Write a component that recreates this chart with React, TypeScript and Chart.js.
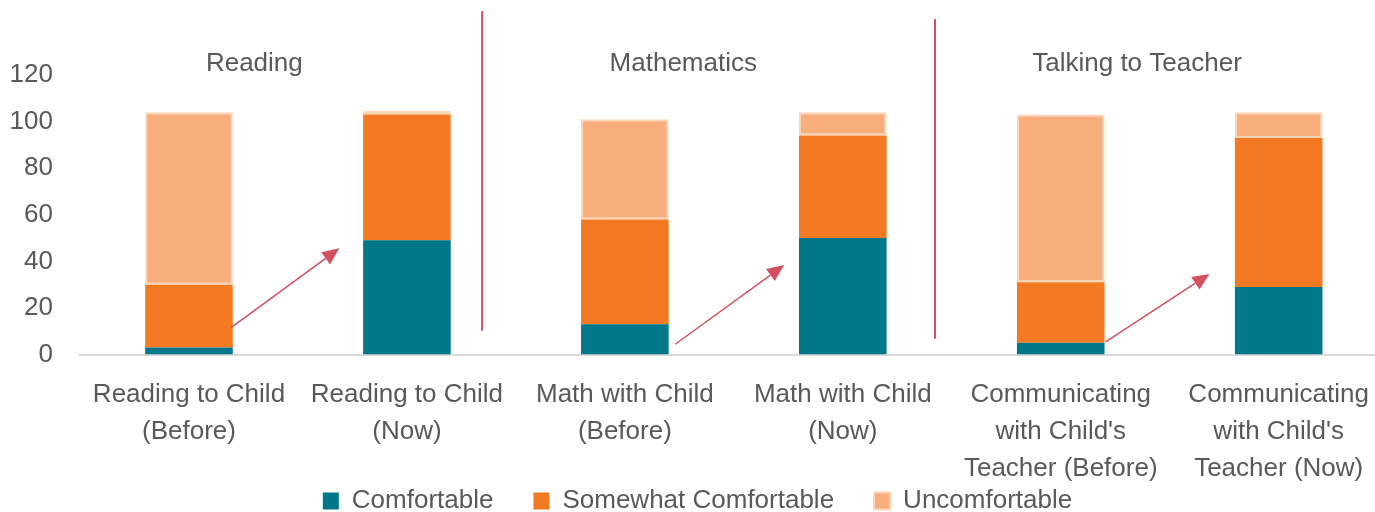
import React, { useEffect, useRef } from "react";
import { Chart, registerables } from "chart.js";

Chart.register(...registerables);

const categories: string[][] = [
  ["Reading to Child", "(Before)"],
  ["Reading to Child", "(Now)"],
  ["Math with Child", "(Before)"],
  ["Math with Child", "(Now)"],
  ["Communicating", "with Child's", "Teacher (Before)"],
  ["Communicating", "with Child's", "Teacher (Now)"],
];

const comfortable = [3, 49, 13, 50, 5, 29];
const somewhatComfortable = [27, 54, 45, 44, 26, 64];
const uncomfortable = [74, 1.5, 43, 10, 72, 11];

const yTicks = [0, 20, 40, 60, 80, 100, 120];

// Section titles: label, category position, value position
const sectionTitles = ["Reading", "Mathematics", "Talking to Teacher"];
const sectionTitleX = [0.3, 2.268, 4.35];
const sectionTitleY = 124.7;

// Divider lines: category position, value top, value bottom
const dividerX = [1.345, 3.423];
const dividerTop = [147.5, 144];
const dividerBottom = [10.2, 6.8];

// Arrows: start/end in (category position, value)
const arrowStartX = [0.193, 2.231, 4.206];
const arrowStartY = [11.5, 4.4, 5.4];
const arrowEndX = [0.69, 2.731, 4.683];
const arrowEndY = [45.6, 38.4, 34.6];

const TEXT = "#595959";
const RED = "#D4505F";
const FONT = "'Liberation Sans', Arial, sans-serif";

const annotationPlugin = {
  id: "annotations",
  afterLayout(chart: any) {
    // let multi-line category labels extend below the axis box without clipping
    chart.scales.x.bottom = chart.height;
  },
  afterDatasetsDraw(chart: any) {
    const { ctx } = chart;
    const xs = chart.scales.x;
    const ys = chart.scales.y;
    ctx.save();
    ctx.strokeStyle = RED;
    ctx.lineWidth = 2;
    dividerX.forEach((dx, i) => {
      const px = xs.getPixelForValue(dx);
      ctx.beginPath();
      ctx.moveTo(px, ys.getPixelForValue(dividerTop[i]));
      ctx.lineTo(px, ys.getPixelForValue(dividerBottom[i]));
      ctx.stroke();
    });
    arrowStartX.forEach((sx, i) => {
      const x1 = xs.getPixelForValue(sx);
      const y1 = ys.getPixelForValue(arrowStartY[i]);
      const x2 = xs.getPixelForValue(arrowEndX[i]);
      const y2 = ys.getPixelForValue(arrowEndY[i]);
      const ang = Math.atan2(y2 - y1, x2 - x1);
      const headLen = 17;
      const headW = 7.5;
      const bx = x2 - headLen * Math.cos(ang);
      const by = y2 - headLen * Math.sin(ang);
      ctx.strokeStyle = RED;
      ctx.lineWidth = 1.5;
      ctx.beginPath();
      ctx.moveTo(x1, y1);
      ctx.lineTo(bx, by);
      ctx.stroke();
      ctx.fillStyle = RED;
      ctx.beginPath();
      ctx.moveTo(x2, y2);
      ctx.lineTo(bx + headW * Math.sin(ang), by - headW * Math.cos(ang));
      ctx.lineTo(bx - headW * Math.sin(ang), by + headW * Math.cos(ang));
      ctx.closePath();
      ctx.fill();
    });
    ctx.fillStyle = TEXT;
    ctx.font = `26px ${FONT}`;
    ctx.textAlign = "center";
    ctx.textBaseline = "middle";
    sectionTitles.forEach((t, i) => {
      ctx.fillText(t, xs.getPixelForValue(sectionTitleX[i]), ys.getPixelForValue(sectionTitleY));
    });
    ctx.restore();
  },
};

export default function App() {
  const ref = useRef<HTMLCanvasElement | null>(null);
  useEffect(() => {
    if (!ref.current) return;
    const chart = new Chart(ref.current, {
      type: "bar",
      data: {
        labels: categories,
        datasets: [
          {
            label: "Comfortable",
            data: comfortable,
            backgroundColor: "#00788A",
            borderWidth: 0,
          },
          {
            label: "Somewhat Comfortable",
            data: somewhatComfortable,
            backgroundColor: "#F37A22",
            borderWidth: 0,
          },
          {
            label: "Uncomfortable",
            data: uncomfortable,
            backgroundColor: "#F8AE7C",
            borderColor: "#FCD4B6",
            borderWidth: 2,
            borderSkipped: false,
          },
        ],
      },
      options: {
        animation: false,
        responsive: true,
        maintainAspectRatio: false,
        layout: { padding: { left: 4, right: 0, top: 75, bottom: 0 } },
        datasets: {
          bar: { categoryPercentage: 1, barPercentage: 0.402 },
        },
        plugins: {
          tooltip: { enabled: false },
          legend: {
            position: "bottom",
            labels: {
              font: { family: FONT, size: 26 },
              color: TEXT,
              boxWidth: 16,
              boxHeight: 17,
              padding: 40,
            },
          },
        },
        scales: {
          x: {
            stacked: true,
            grid: { display: false, drawTicks: false },
            border: { display: true, color: "#D9D9D9", width: 2 },
            ticks: {
              font: { family: FONT, size: 26, lineHeight: 1.42 },
              color: TEXT,
              padding: 22,
              maxRotation: 0,
              autoSkip: false,
            },
            afterFit: (s: any) => {
              s.height = 93.5;
            },
          },
          y: {
            stacked: true,
            min: 0,
            max: 120,
            grid: { display: false, drawTicks: false },
            border: { display: false },
            afterBuildTicks: (s: any) => {
              s.ticks = yTicks.map((v) => ({ value: v }));
            },
            ticks: {
              font: { family: FONT, size: 26 },
              color: TEXT,
              padding: 27,
            },
            afterFit: (s: any) => {
              s.width = 76;
            },
          },
        },
      },
      plugins: [annotationPlugin],
    });
    return () => chart.destroy();
  }, []);

  return (
    <div style={{ position: "fixed", left: 0, top: 0, width: 1375, height: 512, overflow: "hidden", background: "#fff" }}>
      <div style={{ position: "relative", width: 1391, height: 524 }}>
        <canvas ref={ref} />
      </div>
    </div>
  );
}
